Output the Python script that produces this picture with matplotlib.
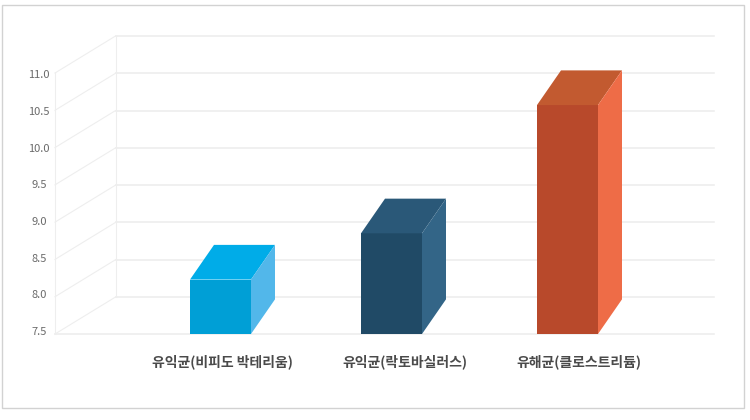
import matplotlib
matplotlib.use("Agg")
import matplotlib.pyplot as plt
from matplotlib.patches import Polygon, Rectangle
from matplotlib.transforms import ScaledTranslation

plt.rcParams['font.family'] = ['Noto Sans CJK KR', 'DejaVu Sans']

categories = ['유익균(비피도 박테리움)', '유익균(락토바실러스)', '유해균(클로스트리듐)']
values = [8.23, 8.85, 10.57]
tick_values = [7.5, 8.0, 8.5, 9.0, 9.5, 10.0, 10.5, 11.0]
tick_labels = ['7.5', '8.0', '8.5', '9.0', '9.5', '10.0', '10.5', '11.0']

bar_centers = [220.5, 391.5, 567.5]
label_centers = [222, 405, 579]
bar_width = 61
front_colors = ['#009fd6', '#204a66', '#b8492b']
top_colors = ['#00ace8', '#2a5878', '#c25a30']
side_colors = ['#52b7ea', '#336587', '#ee6c47']
grid_color = '#eeeeee'

W, H = 750, 420
X0, X1, XB = 55, 714, 115.5
wall_dy = 0.496
bar_dx, bar_dy = 24, 0.465

fig = plt.figure(figsize=(W / 100, H / 100), dpi=100, facecolor='white')
fig.add_artist(Rectangle((1.5 / W, 1 - 408 / H), 742.5 / W, 403 / H, transform=fig.transFigure,
                         fill=False, edgecolor='#d2d2d2', linewidth=1))
ax = fig.add_axes([X0 / W, 1 - 334 / H, (X1 - X0) / W, 261 / H])
ax.set_xlim(X0, X1)
ax.set_ylim(7.5, 11.0)
ax.patch.set_visible(False)
for s in ax.spines.values():
    s.set_visible(False)

# walls and grid
for v in tick_values:
    ax.plot([X0, XB], [v, v + wall_dy], color=grid_color, lw=0.8, clip_on=False, zorder=1)
    ax.plot([XB, X1], [v + wall_dy, v + wall_dy], color=grid_color, lw=1.2, clip_on=False, zorder=1)
ax.plot([X0, X1], [7.5, 7.5], color=grid_color, lw=1.2, clip_on=False, zorder=1)
ax.plot([X0, X0], [7.5, 11.0], color=grid_color, lw=0.8, clip_on=False, zorder=1)
ax.plot([XB, XB], [7.5 + wall_dy, 11.0 + wall_dy], color=grid_color, lw=0.8, clip_on=False, zorder=1)

# 3D bars
for c, v, fc, tc, sc in zip(bar_centers, values, front_colors, top_colors, side_colors):
    l, r = c - bar_width / 2, c + bar_width / 2
    ax.bar(c, v - 7.5, bottom=7.5, width=bar_width, color=fc, linewidth=0, zorder=3, clip_on=False)
    ax.add_patch(Polygon([(l, v), (r, v), (r + bar_dx, v + bar_dy), (l + bar_dx, v + bar_dy)],
                         facecolor=tc, edgecolor='none', zorder=3, clip_on=False))
    ax.add_patch(Polygon([(r, 7.5), (r + bar_dx, 7.5 + bar_dy), (r + bar_dx, v + bar_dy), (r, v)],
                         facecolor=sc, edgecolor='none', zorder=3, clip_on=False))

# y tick labels
ax.set_yticks(tick_values)
ax.set_yticklabels(tick_labels)
ax.tick_params(axis='y', length=0, pad=0, labelsize=8, labelcolor='#6a6a6a')
for i, tick in enumerate(ax.yaxis.get_major_ticks()):
    lab = tick.label1
    lab.set_horizontalalignment('center')
    lab.set_verticalalignment('center')
    lab.set_fontweight('medium')
    lab.set_transform(ax.get_yaxis_transform(which='tick1') +
                      ScaledTranslation(-16 / 100, (3 - 0.6 * i - 1) / 100, fig.dpi_scale_trans))

# category labels
ax.set_xticks(label_centers)
ax.set_xticklabels(categories)
ax.tick_params(axis='x', length=0, pad=15, labelsize=10, labelcolor='#4a4a4a')
for lab in ax.get_xticklabels():
    lab.set_fontweight('bold')

fig.savefig('out.png', dpi=100, facecolor='white')
